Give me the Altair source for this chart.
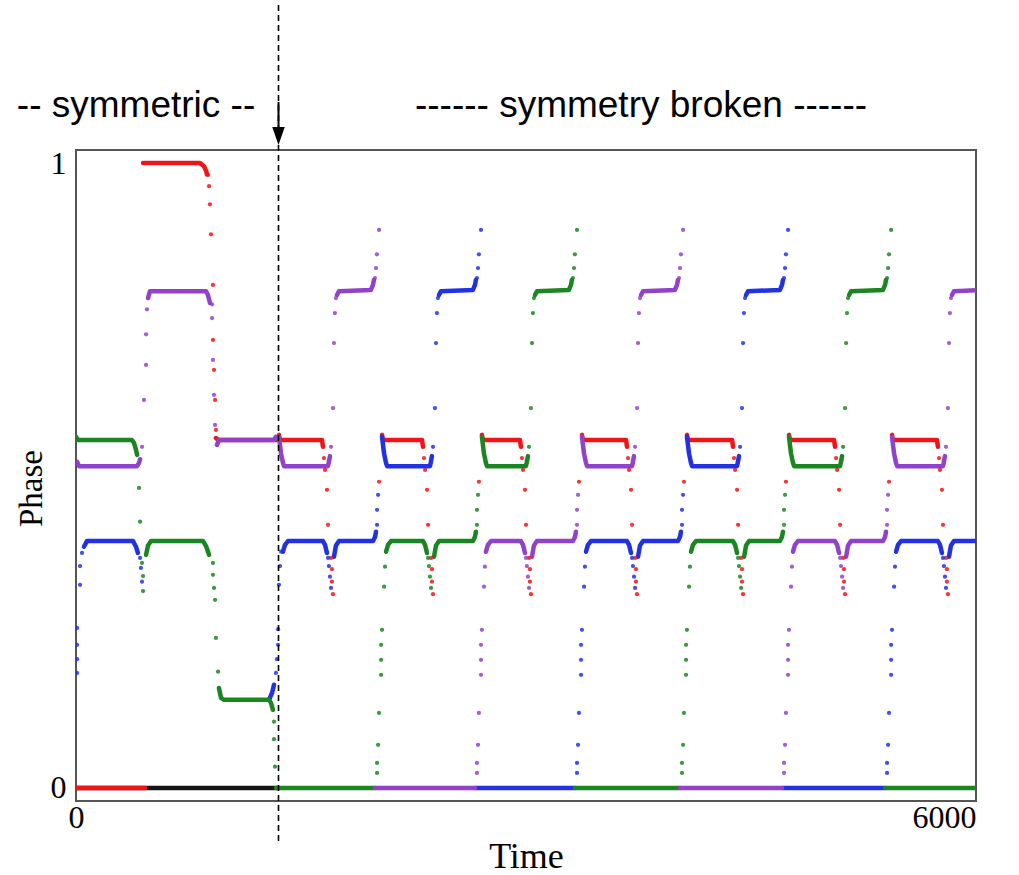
import altair as alt
import pandas as pd

# ---------------- axis ranges ----------------
X_MAX = 6000
Y_DOMAIN = [-0.021, 1.021]
BREAK_TIME = [1350]
HEADER_LABELS = ["-- symmetric --", "------ symmetry broken ------"]

# ---------------- symmetric regime (t < 1350) ----------------
BLACK_LINES = [[(0, 0.0), (1347, 0.0)]]

RED_LINES = [
    [(0, 0.0), (460, 0.0)],
    [(447, 1.0), (827, 1.0), (853, 0.995), (867, 0.988), (873, 0.982)],
    [(933, 0.560), (947, 0.557), (1347, 0.557)],
]
RED_DOTS = [(880, 0.981), (887, 0.963), (893, 0.934), (900, 0.886), (913, 0.805),
            (913, 0.717), (920, 0.669), (927, 0.621), (933, 0.573)]

PURPLE_LINES = [
    [(7, 0.522), (20, 0.515), (407, 0.515), (420, 0.520), (427, 0.526)],
    [(480, 0.784), (493, 0.795), (867, 0.795), (880, 0.789), (893, 0.776)],
    [(940, 0.549), (953, 0.557), (1320, 0.557), (1333, 0.562)],
]
PURPLE_DOTS = [(440, 0.546), (453, 0.621), (467, 0.677), (467, 0.726), (473, 0.766),
               (907, 0.774), (907, 0.752), (913, 0.685), (920, 0.629), (927, 0.581)]

GREEN_LINES = [
    [(0, 0.562), (13, 0.557), (373, 0.557), (387, 0.552), (400, 0.541), (407, 0.533)],
    [(467, 0.373), (480, 0.388), (500, 0.395), (847, 0.395), (867, 0.387), (887, 0.373)],
    [(953, 0.160), (967, 0.144), (987, 0.141), (1287, 0.141), (1300, 0.136), (1313, 0.125)],
    [(1333, 0.0), (1994, 0.0)],
]
GREEN_DOTS = [(420, 0.480), (427, 0.426), (440, 0.360), (447, 0.339), (447, 0.315),
              (913, 0.360), (913, 0.341), (920, 0.320), (927, 0.301), (933, 0.240),
              (947, 0.186), (1320, 0.106), (1320, 0.078), (1327, 0.034)]

BLUE_LINES = [
    [(53, 0.386), (73, 0.395), (380, 0.395), (400, 0.386), (413, 0.376)],
    [(1287, 0.141), (1307, 0.152), (1320, 0.165)],
]
BLUE_DOTS = [(7, 0.184), (7, 0.206), (7, 0.229), (7, 0.256), (27, 0.325), (27, 0.355),
             (40, 0.376), (427, 0.368), (433, 0.352), (440, 0.330),
             (1333, 0.184), (1340, 0.206), (1347, 0.229), (1347, 0.254),
             (1353, 0.325), (1360, 0.355), (1367, 0.378)]

# ---------------- broken-symmetry regime: one repeating cycle ----------------
# cycle anchors: start of red plateau, dip time, start of upper "~"
CYCLE_START = [1360, 2047, 2713, 3380, 4080, 4760, 5447]
CYCLE_DIP = [1693, 2360, 3013, 3720, 4427, 5107, 5793]
CYCLE_TILDE = [1713, 2393, 3033, 3740, 4440, 5127, 5813]
ZERO_OSC = ["green", "purple", "blue", "green", "purple", "blue", "green"]
RISER_OSC = ["blue", "green", "purple", "blue", "green", "purple", "blue"]
UPPER_OSC = ["purple", "blue", "green", "purple", "blue", "green", "purple"]

# shapes: (anchor, time offset, phase); a = cycle start, d = dip, t = tilde, n = next start
RED_PLATEAU = [("a", -7, 0.565), ("a", 0, 0.557), ("d", -53, 0.557), ("d", -47, 0.546)]
RED_CYCLE_DOTS = [("d", -40, 0.528), ("d", -33, 0.509), ("d", -20, 0.477), ("d", -13, 0.421),
                  ("d", 7, 0.368), ("d", 13, 0.350), ("d", 13, 0.330), ("d", 20, 0.310),
                  ("n", -27, 0.490)]
RISER_RISE_DOTS = [("a", -40, 0.024), ("a", -40, 0.040), ("a", -33, 0.069), ("a", -27, 0.120),
                   ("a", -13, 0.181), ("a", -13, 0.205), ("a", -13, 0.229), ("a", -7, 0.253),
                   ("a", 7, 0.322), ("a", 13, 0.354)]
RISER_PLATEAU1 = [("a", 20, 0.378), ("a", 33, 0.389), ("a", 53, 0.395),
                  ("d", -47, 0.395), ("d", -33, 0.389), ("d", -20, 0.376)]
RISER_DIP_DOTS = [("d", -13, 0.368), ("d", -7, 0.355), ("d", 0, 0.338), ("d", 7, 0.320)]
RISER_PLATEAU2 = [("d", 27, 0.370), ("d", 40, 0.388), ("d", 60, 0.395),
                  ("n", -67, 0.395), ("n", -53, 0.402), ("n", -47, 0.410)]
RISER_END_DOTS = [("n", -40, 0.421), ("n", -40, 0.445), ("n", -33, 0.469)]
UPPER_PLATEAU = [("a", -7, 0.562), ("a", 7, 0.535), ("a", 20, 0.520), ("a", 27, 0.515),
                 ("t", -33, 0.515), ("t", -27, 0.522), ("t", -20, 0.531)]
UPPER_DOTS = [("t", -13, 0.546), ("t", 0, 0.608), ("t", 7, 0.712), ("t", 13, 0.760),
              ("t", 20, 0.784), ("t", 280, 0.816), ("t", 287, 0.832), ("t", 293, 0.854),
              ("t", 307, 0.893)]
TILDE_LINE = [("t", 27, 0.789), ("t", 40, 0.795), ("t", 253, 0.797), ("t", 267, 0.805),
              ("t", 273, 0.813)]
ZERO_LINE = [("a", -53, 0.0), ("n", -53, 0.0)]

# ---------------- styles ----------------
OSC_ORDER = ["black", "red", "blue", "green", "purple"]
OSC_COLOR = {"black": "#141414", "red": "#f01418", "blue": "#2232e0",
             "green": "#1b8522", "purple": "#9043c8"}

line_rows, dot_rows = [], []
seg_counter = [0]


def add_line(osc, pts):
    seg_counter[0] += 1
    for i, (t, p) in enumerate(pts):
        line_rows.append({"osc": osc, "seg": seg_counter[0], "i": i, "t": t, "phase": p})


def add_dots(osc, pts):
    for t, p in pts:
        dot_rows.append({"osc": osc, "t": t, "phase": p})


for osc, lines, dots in [("black", BLACK_LINES, []), ("red", RED_LINES, RED_DOTS),
                         ("purple", PURPLE_LINES, PURPLE_DOTS), ("green", GREEN_LINES, GREEN_DOTS),
                         ("blue", BLUE_LINES, BLUE_DOTS)]:
    for ln in lines:
        add_line(osc, ln)
    add_dots(osc, dots)

for k in range(len(CYCLE_START)):
    anc = {"a": CYCLE_START[k], "d": CYCLE_DIP[k], "t": CYCLE_TILDE[k],
           "n": CYCLE_START[k + 1] if k + 1 < len(CYCLE_START) else X_MAX + 100}

    def place(tmpl):
        return [(anc[a] + off, p) for a, off, p in tmpl]

    add_line("red", place(RED_PLATEAU))
    add_dots("red", place(RED_CYCLE_DOTS))
    r = RISER_OSC[k]
    if k > 0:
        add_dots(r, place(RISER_RISE_DOTS))
    add_line(r, place(RISER_PLATEAU1))
    add_dots(r, place(RISER_DIP_DOTS))
    add_line(r, place(RISER_PLATEAU2))
    add_dots(r, place(RISER_END_DOTS))
    u = UPPER_OSC[k]
    add_line(u, place(UPPER_PLATEAU))
    add_dots(u, place(UPPER_DOTS))
    add_line(u, place(TILDE_LINE))
    if k > 0:
        add_line(ZERO_OSC[k], place(ZERO_LINE))

lines_df = pd.DataFrame(line_rows)
dots_df = pd.DataFrame(dot_rows)

serif = "Liberation Serif"
x_enc = alt.X("t:Q", scale=alt.Scale(domain=[0, X_MAX], nice=False, zero=False),
              axis=alt.Axis(values=[0, X_MAX], format="d", title="Time",
                            labelAlign={"condition": {"test": "datum.value > 3000", "value": "right"},
                                        "value": "center"},
                            labelPadding=1, titlePadding=6, titleFontSize=36))
y_enc = alt.Y("phase:Q", scale=alt.Scale(domain=Y_DOMAIN, nice=False, zero=False),
              axis=alt.Axis(values=[0, 1], format="d", title="Phase",
                            labelPadding=10, titlePadding=2, titleFontSize=33, titleY=338))

layers = []
for osc in OSC_ORDER:
    sub = lines_df[lines_df.osc == osc]
    layers.append(alt.Chart(sub).mark_line(strokeWidth=4.5, color=OSC_COLOR[osc], clip=True,
                                           strokeCap="round", strokeJoin="round")
                  .encode(x=x_enc, y=y_enc, detail="seg:N", order="i:Q"))
for osc in OSC_ORDER:
    sub = dots_df[dots_df.osc == osc]
    if len(sub) == 0:
        continue
    layers.append(alt.Chart(sub).mark_circle(size=18, color=OSC_COLOR[osc], opacity=0.85, clip=True)
                  .encode(x=x_enc, y=y_enc))

break_df = pd.DataFrame({"t": BREAK_TIME})
dashed = alt.Chart(break_df).mark_rule(color="black", strokeWidth=1.6, strokeDash=[6, 4]).encode(
    x=alt.X("t:Q"), y=alt.value(-145), y2=alt.value(692))
shaft = alt.Chart(break_df).mark_rule(color="black", strokeWidth=2).encode(
    x=alt.X("t:Q"), y=alt.value(-48), y2=alt.value(-20))
head = alt.Chart(break_df).mark_point(shape="M -0.7 -1 L 0.7 -1 L 0 1 Z", filled=True,
                                      size=320, color="black", opacity=1).encode(
    x=alt.X("t:Q"), y=alt.value(-14))

hdr1 = alt.Chart(pd.DataFrame({"label": [HEADER_LABELS[0]]})).mark_text(
    font="Liberation Sans", fontSize=37, align="center", baseline="alphabetic", color="black").encode(
    x=alt.value(60), y=alt.value(-33), text="label:N")
hdr2 = alt.Chart(pd.DataFrame({"label": [HEADER_LABELS[1]]})).mark_text(
    font="Liberation Sans", fontSize=37, align="center", baseline="alphabetic", color="black").encode(
    x=alt.value(565), y=alt.value(-33), text="label:N")

chart = alt.layer(*layers, dashed, shaft, head, hdr1, hdr2).properties(
    width=900, height=651,
    autosize=alt.AutoSizeParams(type="none"),
    padding={"left": 76, "top": 150, "right": 43, "bottom": 74},
).configure_view(stroke="#555555", strokeWidth=2).configure_axis(
    grid=False, domain=False, ticks=False, labelFont=serif, titleFont=serif,
    labelFontSize=32, titleFontSize=34, labelColor="black", titleColor="black",
    titleFontWeight="normal")

chart.save("out.html", embed_options={"renderer": "svg", "actions": False})
